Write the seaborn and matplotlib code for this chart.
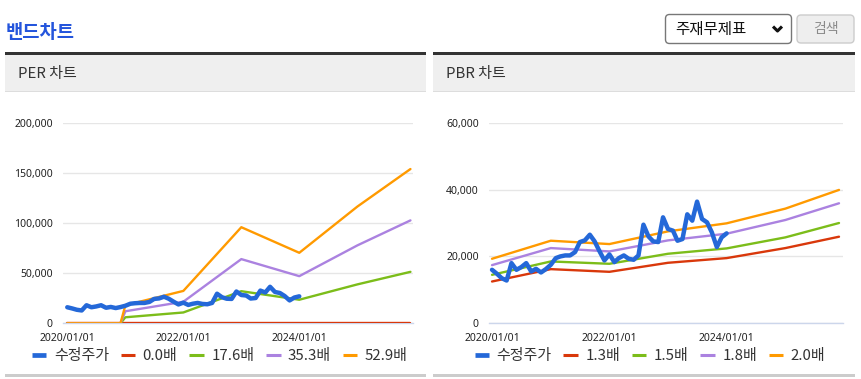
import pandas as pd
import numpy as np
import matplotlib
matplotlib.use("Agg")
import matplotlib.pyplot as plt
import matplotlib.dates as mdates
import seaborn as sns
from matplotlib.patches import Rectangle, FancyBboxPatch
from matplotlib.lines import Line2D
from matplotlib.transforms import Affine2D

# ---- data ----
price_dates = pd.date_range("2020-01-01", "2024-01-01", freq="MS")
price = [16000, 14800, 13500, 12800, 18000, 16000, 16800, 18000, 15500, 16300, 15200, 16200,
         17500, 19500, 20000, 20300, 20300, 21300, 24300, 24800, 26500, 24500, 21500, 18800,
         20600, 18300, 19500, 20300, 19300, 19000, 20300, 29500, 26000, 24500, 24300, 31700,
         28200, 27700, 24700, 25200, 32600, 30700, 36400, 31200, 30200, 27200, 22800, 25700, 26900]

per_dates = ["2020-01-01", "2020-12-01", "2021-01-01", "2022-01-01", "2023-01-01",
             "2024-01-01", "2025-01-01", "2025-12-01"]
per_bands = {
    "0.0배": [0, 0, 0, 0, 0, 0, 0, 0],
    "17.6배": [0, 0, 6000, 10800, 32000, 23500, 38800, 51300],
    "35.3배": [0, 0, 12000, 21500, 64000, 47000, 77700, 102600],
    "52.9배": [0, 0, 18000, 32300, 95800, 70300, 116400, 153800],
}

pbr_dates = ["2020-01-01", "2021-01-01", "2022-01-01", "2023-01-01",
             "2024-01-01", "2025-01-01", "2025-12-01"]
pbr_bands = {
    "1.3배": [12500, 16200, 15400, 18100, 19500, 22500, 25900],
    "1.5배": [14500, 18500, 17800, 20800, 22400, 25700, 30000],
    "1.8배": [17400, 22500, 21500, 24800, 26800, 30900, 35900],
    "2.0배": [19300, 24700, 23700, 27500, 29900, 34300, 39900],
}

per_yticks = [0, 50000, 100000, 150000, 200000]
pbr_yticks = [0, 20000, 40000, 60000]
x_ticks = ["2020-01-01", "2022-01-01", "2024-01-01"]
x_labels = ["2020/01/01", "2022/01/01", "2024/01/01"]

price_name = "수정주가"
band_colors = ["#d9380b", "#7cbd1a", "#ab82e0", "#ff9a00"]
price_color = "#2468d8"

# ---- figure ----
sns.set_theme(style="white")
plt.rcParams["font.family"] = ["Noto Sans CJK KR", "DejaVu Sans"]

W, H = 862, 379
fig = plt.figure(figsize=(W / 100, H / 100), dpi=100)
# pixel coords, origin top-left
T = Affine2D().scale(1 / W, -1 / H).translate(0, 1) + fig.transFigure


def box(x0, y0, x1, y1):
    return [x0 / W, 1 - y1 / H, (x1 - x0) / W, (y1 - y0) / H]


def rect(x0, y0, x1, y1, color):
    fig.patches.append(Rectangle((x0, y0), x1 - x0, y1 - y0, transform=T,
                                 facecolor=color, edgecolor="none"))


# page header
fig.text(6, 33, "밴드차트", transform=T, fontsize=13.5, fontweight="bold",
         color="#2455dc", va="center", ha="left")

fig.patches.append(FancyBboxPatch((665.5, 14.5), 126, 29, boxstyle="round,pad=0,rounding_size=4",
                                  transform=T, facecolor="white", edgecolor="#777777", lw=1))
fig.text(675, 29, "주재무제표", transform=T, fontsize=11.2, color="#111111", va="center")
fig.add_artist(Line2D([773, 777.5, 782], [26.5, 31, 26.5], transform=T, color="#111111",
                      lw=2.2, solid_capstyle="butt"))
fig.patches.append(FancyBboxPatch((797, 15), 57, 28, boxstyle="round,pad=0,rounding_size=4",
                                  transform=T, facecolor="#eeeeee", edgecolor="#cccccc", lw=1))
fig.text(825.5, 29, "검색", transform=T, fontsize=10, color="#8a8a8a", va="center", ha="center")

for x0, x1, name in [(5, 426, "PER 차트"), (433.5, 855, "PBR 차트")]:
    rect(x0, 52, x1, 54.5, "#333333")
    rect(x0, 54.5, x1, 90.5, "#efefef")
    rect(x0, 90.5, x1, 91.5, "#dddddd")
    rect(x0, 374, x1, 376.5, "#cccccc")
    fig.text(x0 + 13, 74, name, transform=T, fontsize=10.8, color="#333333", va="center")


def draw_chart(ax, band_dates, bands, yticks, xlim, legend_x):
    handles = []
    bd = pd.to_datetime(band_dates)
    for (name, vals), col in zip(bands.items(), band_colors):
        df = pd.DataFrame({"date": bd, "value": vals})
        sns.lineplot(data=df, x="date", y="value", ax=ax, color=col, lw=1.7,
                     estimator=None, sort=False, zorder=3)
        handles.append(Line2D([], [], color=col, lw=2.2, label=name,
                              solid_capstyle="butt"))
    dfp = pd.DataFrame({"date": price_dates, "value": price})
    sns.lineplot(data=dfp, x="date", y="value", ax=ax, color=price_color, lw=3.2,
                 estimator=None, zorder=5)
    handles.insert(0, Line2D([], [], color=price_color, lw=3.4, label=price_name,
                             solid_capstyle="butt"))

    ax.set_ylim(yticks[0], yticks[-1])
    ax.set_xlim(pd.to_datetime(xlim[0]), pd.to_datetime(xlim[1]))
    ax.set_yticks(yticks)
    ax.set_yticklabels([f"{v:,}" for v in yticks])
    ax.set_xticks(pd.to_datetime(x_ticks))
    ax.set_xticklabels(x_labels)
    ax.set_xlabel("")
    ax.set_ylabel("")
    for s in ["top", "left", "right"]:
        ax.spines[s].set_visible(False)
    ax.spines["bottom"].set_color("#ccd6eb")
    ax.spines["bottom"].set_linewidth(1)
    ax.spines["bottom"].set_zorder(2)
    ax.grid(axis="y", color="#e6e6e6", lw=1)
    ax.set_axisbelow(True)
    ax.tick_params(axis="y", length=0, pad=7.5, labelsize=7.5, labelcolor="#222222")
    ax.tick_params(axis="x", length=5, width=1, color="#ccd6eb", pad=2,
                   labelsize=7.5, labelcolor="#222222")
    for lab in ax.get_yticklabels() + ax.get_xticklabels():
        lab.set_fontfamily(["Noto Sans", "DejaVu Sans"])

    leg = fig.legend(handles=handles, loc="center", bbox_to_anchor=(legend_x / W, 1 - 356 / H),
                     ncol=5, frameon=False, fontsize=10.8, handlelength=0.95,
                     handletextpad=0.5, columnspacing=0.8, borderpad=0)
    for t in leg.get_texts():
        t.set_color("#333333")


ax1 = fig.add_axes(box(63.3, 122.7, 413.3, 323.3))
draw_chart(ax1, per_dates, per_bands, per_yticks, ("2019-12-07", "2025-12-19"), 220)

ax2 = fig.add_axes(box(489.3, 122.7, 842.7, 323.3))
draw_chart(ax2, pbr_dates, pbr_bands, pbr_yticks, ("2019-12-15", "2025-12-24"), 650)

fig.savefig("out.png", dpi=100)
